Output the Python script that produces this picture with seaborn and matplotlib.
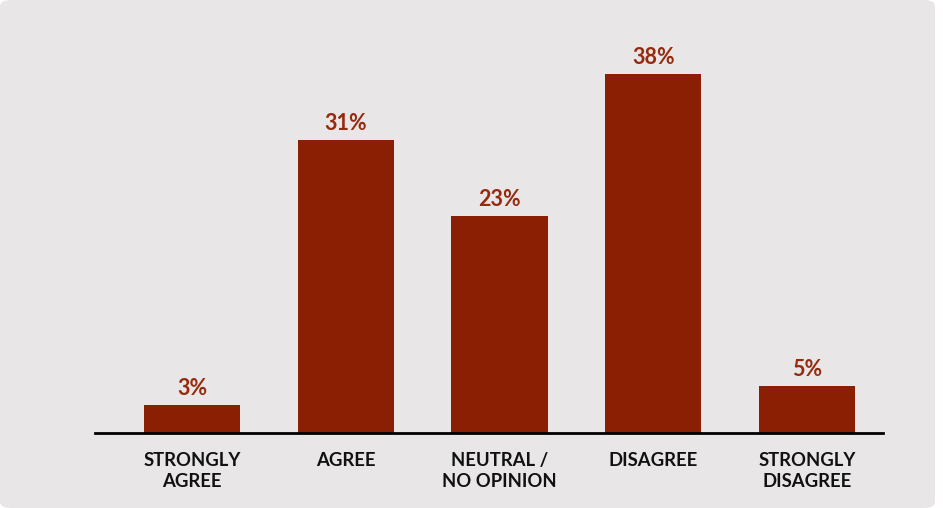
import matplotlib
matplotlib.use("Agg")
import matplotlib.pyplot as plt
import seaborn as sns
import pandas as pd
from matplotlib.patches import FancyBboxPatch

categories = ["STRONGLY\nAGREE", "AGREE", "NEUTRAL /\nNO OPINION", "DISAGREE", "STRONGLY\nDISAGREE"]
values = [3, 31, 23, 38, 5]
labels = ["3%", "31%", "23%", "38%", "5%"]

sns.set_theme(style="white")
plt.rcParams['font.family'] = ['Lato', 'DejaVu Sans']

bg = "#e8e6e7"
bar_color = "#8a1f03"
label_color = "#962a0e"

fig = plt.figure(figsize=(9.43, 5.08), dpi=100)
fig.patch.set_facecolor("white")
panel = FancyBboxPatch((0, 0), 935 / 943, 1.0, boxstyle="round,pad=0,rounding_size=0.012",
                       transform=fig.transFigure, facecolor=bg, edgecolor="none", zorder=-10)
fig.patches.append(panel)

ax = fig.add_axes([95 / 943, (508 - 433) / 508, (883 - 95) / 943, 433 / 508])
ax.set_facecolor("none")

df = pd.DataFrame({"cat": categories, "val": values})
sns.barplot(data=df, x="cat", y="val", color=bar_color, saturation=1, width=0.625,
            linewidth=0, edgecolor="none", ax=ax)

ax.set_xlim(-0.631, 4.494)
ax.set_ylim(0, 433 / 9.447)

for i, (v, lab) in enumerate(zip(values, labels)):
    ax.text(i, v + 0.6, lab, ha="center", va="bottom", fontsize=15.5, fontweight="bold",
            color=label_color)

for s in ["top", "right", "left"]:
    ax.spines[s].set_visible(False)
ax.spines["bottom"].set_color("black")
ax.spines["bottom"].set_linewidth(2)
ax.set_yticks([])
ax.set_xlabel("")
ax.set_ylabel("")
ax.tick_params(axis="x", length=0, pad=13.5)
ax.set_xticks(range(len(categories)))
ax.set_xticklabels(categories, fontsize=13.3, fontweight="bold", color="#111111", linespacing=1.3, va="top")

fig.savefig("out.png", dpi=100, facecolor=fig.get_facecolor())
